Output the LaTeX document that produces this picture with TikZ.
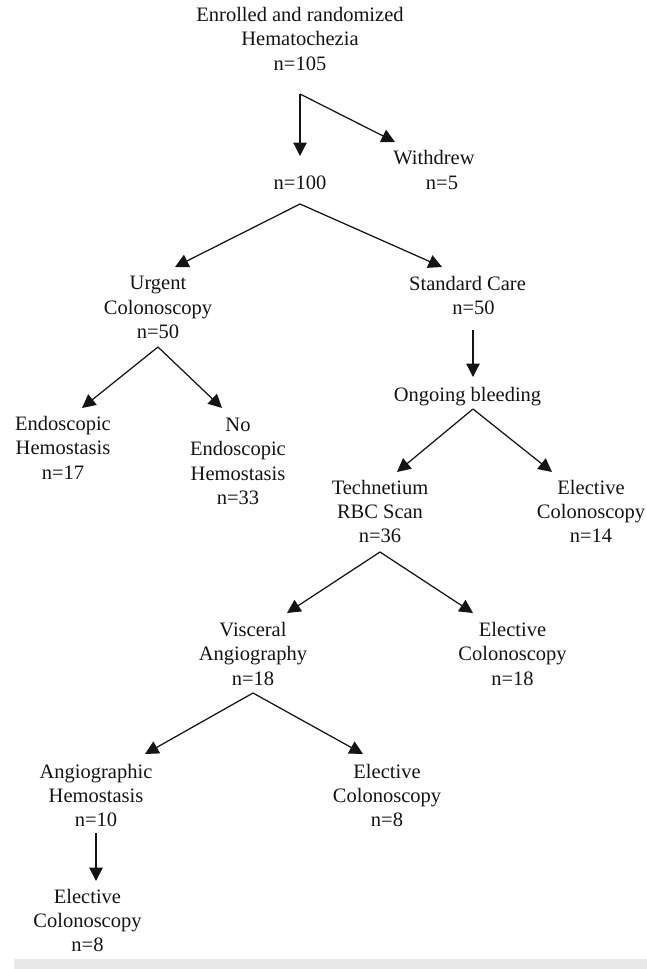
\documentclass[tikz,border=0pt]{standalone}
\usepackage{fontspec}
\setmainfont{Liberation Serif}
\usetikzlibrary{arrows.meta}
\begin{document}
\begin{tikzpicture}[x=1pt,y=-1pt,
  lbl/.style={align=center,inner sep=0pt,text=black!92,
    font=\fontsize{20.5}{24.3}\selectfont,
    execute at begin node=\strut,execute at end node=\strut},
  arr/.style={draw=black!92,line width=1.25pt,-{Triangle[length=13.5pt,width=13.5pt]}}]
\useasboundingbox (0,0) rectangle (647,969);
\fill[black!9] (14,959) rectangle (647,969);
% nodes
\node[lbl] (enr) at (300,42.5) {Enrolled and randomized\\Hematochezia\\n=105};
\node[lbl] (n100) at (300,185) {n=100};
\node[lbl] (wd) at (434,173.5) {Withdrew\\\hspace*{16pt}n=5};
\node[lbl] (urg) at (158,311) {Urgent\\Colonoscopy\\n=50};
\node[lbl] (std) at (467.5,299) {Standard Care\\\hspace*{12pt}n=50};
\node[lbl] (ong) at (467.5,397) {Ongoing bleeding};
\node[lbl] (endo) at (63,451.5) {Endoscopic\\Hemostasis\\n=17};
\node[lbl] (noendo) at (238,465) {No\\Endoscopic\\Hemostasis\\n=33};
\node[lbl] (tec) at (380,515) {Technetium\\RBC Scan\\n=36};
\node[lbl] (el14) at (591,515) {Elective\\Colonoscopy\\n=14};
\node[lbl] (vis) at (253,657.5) {Visceral\\Angiography\\n=18};
\node[lbl] (el18) at (512.5,657.5) {Elective\\Colonoscopy\\n=18};
\node[lbl] (ang) at (96,799) {Angiographic\\Hemostasis\\n=10};
\node[lbl] (el8a) at (387,799) {Elective\\Colonoscopy\\n=8};
\node[lbl] (el8b) at (87.5,924) {Elective\\Colonoscopy\\n=8};
% connector points
\coordinate (aEnr) at (300,94);
\coordinate (tN100) at (300,156);
\coordinate (tWd) at (395,142);
\coordinate (aN100) at (300,204);
\coordinate (tUrg) at (175,267);
\coordinate (tStd) at (442,267);
\coordinate (aUrg) at (158,347);
\coordinate (tEndo) at (82,408);
\coordinate (tNoendo) at (222,408);
\coordinate (aStd) at (473,330);
\coordinate (tOng) at (473,377);
\coordinate (aOng) at (473,409);
\coordinate (tTec) at (397,472);
\coordinate (tEl14) at (552,472);
\coordinate (aTec) at (380,552);
\coordinate (tVis) at (287,613);
\coordinate (tEl18) at (473,613);
\coordinate (aVis) at (253,693);
\coordinate (tAng) at (145,754);
\coordinate (tEl8a) at (363,754);
\coordinate (aAng) at (96,833);
\coordinate (tEl8b) at (96,881);
% connectors
\draw[arr] (aEnr) -- (tN100);
\draw[arr] (aEnr) -- (tWd);
\draw[arr] (aN100) -- (tUrg);
\draw[arr] (aN100) -- (tStd);
\draw[arr] (aUrg) -- (tEndo);
\draw[arr] (aUrg) -- (tNoendo);
\draw[arr] (aStd) -- (tOng);
\draw[arr] (aOng) -- (tTec);
\draw[arr] (aOng) -- (tEl14);
\draw[arr] (aTec) -- (tVis);
\draw[arr] (aTec) -- (tEl18);
\draw[arr] (aVis) -- (tAng);
\draw[arr] (aVis) -- (tEl8a);
\draw[arr] (aAng) -- (tEl8b);
\end{tikzpicture}
\end{document}
